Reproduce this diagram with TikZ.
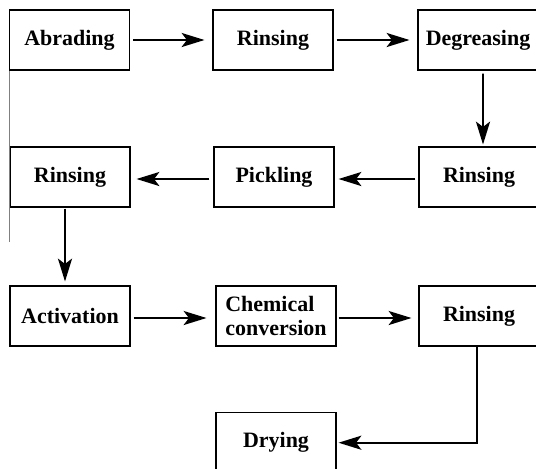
\documentclass[tikz,border=0pt]{standalone}
\usepackage{fontspec}
\setmainfont{Liberation Serif}
\usetikzlibrary{arrows.meta}

\begin{document}
\begin{tikzpicture}[x=0.02cm, y=-0.02cm,
        stage/.style={draw, line width=0.6pt, rectangle, minimum width=2.4cm, minimum height=1.2cm,
            inner sep=0pt, font=\fontsize{12.5}{14}\selectfont\bfseries},
        flow/.style={line width=1.1pt, -{Stealth[length=13pt, width=8pt, inset=3pt]}}]
        \useasboundingbox (0,0) rectangle (536,468);
        \clip (0,0) rectangle (536,468);

        % Draw process stages
        \node[stage] (abrade) at (69.5, 40) {Abrading};
        \node[stage] (rinse1) at (273, 40) {Rinsing};
        \node[stage] (degrease) at (478, 40) {Degreasing};

        \node[stage] (rinse2) at (70, 177) {Rinsing};
        \node[stage] (pickle) at (274, 177) {Pickling};
        \node[stage] (rinse3) at (479, 177) {Rinsing};

        \node[stage] (activate) at (70, 316) {Activation};
        \node[stage, align=left] (convert) at (276, 316) {Chemical\\conversion};
        \node[stage] (rinse4) at (479, 316) {Rinsing};

        \node[stage] (dry) at (276, 442.7) {Drying};

        % Draw flow lines
        \draw[flow, shorten <=0.06cm, shorten >=0.16cm] (abrade) -- (rinse1);
        \draw[flow, shorten <=0.06cm, shorten >=0.16cm] (rinse1) -- (degrease);
        \draw[flow, shorten <=0.06cm, shorten >=0.04cm] ([xshift=0.1cm]degrease.south) -- ([xshift=0.08cm]rinse3.north);

        \draw[flow, shorten <=0.06cm, shorten >=0.08cm] ([yshift=-0.04cm]rinse3.west) -- ([yshift=-0.04cm]pickle.east);
        \draw[flow, shorten <=0.08cm, shorten >=0.12cm] ([yshift=-0.04cm]pickle.west) -- ([yshift=-0.04cm]rinse2.east);
        \draw[flow, shorten <=0.02cm, shorten >=0.08cm] ([xshift=-0.1cm]rinse2.south) -- ([xshift=-0.1cm]activate.north);

        \draw[flow, shorten <=0.06cm, shorten >=0.18cm] ([yshift=-0.04cm]activate.east) -- ([yshift=-0.04cm]convert.west);
        \draw[flow, shorten <=0.04cm, shorten >=0.14cm] ([yshift=-0.04cm]convert.east) -- ([yshift=-0.04cm]rinse4.west);
        \draw[flow, shorten >=0.04cm] ([xshift=-0.04cm]rinse4.south) |- (dry.east);

        % thin left edge
        \draw[gray, line width=0.4pt] (abrade.south west) -- ++(0, 171);
\end{tikzpicture}
\end{document}
